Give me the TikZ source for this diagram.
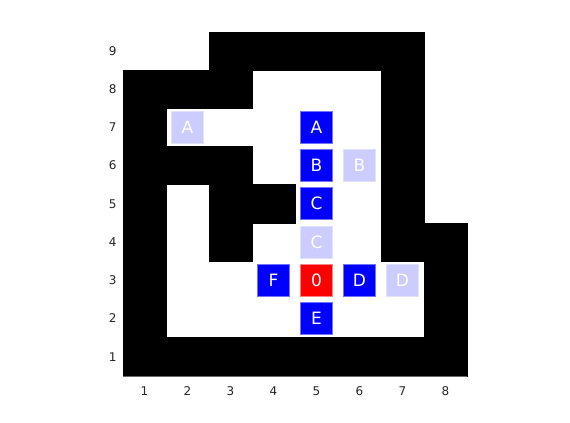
\documentclass[tikz,border=0pt]{standalone}
\usepackage{fontspec}
\setmainfont{DejaVu Sans}
\usetikzlibrary{positioning}

\begin{document}
\begin{tikzpicture}[
  x=43pt, y=38.2pt,
  wall/.style={fill=black, draw=black, line width=0.4pt},
  cellbox/.style={draw, minimum size=32pt, inner sep=0pt, line width=0.8pt,
    text=white, font=\fontsize{17}{17}\selectfont},
  currbox/.style={cellbox, fill=blue, draw=blue!55!white},
  prevbox/.style={cellbox, fill=blue!20!white, draw=blue!12!white},
  startbox/.style={cellbox, fill=red, draw=red!50!white},
  ticklabel/.style={font=\fontsize{12}{12}\selectfont, text=black!85,
    text height=8.8pt, text depth=0pt, inner sep=1pt},
]
\useasboundingbox (-2.3605,-0.712) rectangle (10.895,10.335);

% walls of the maze
\foreach \c/\r in {3/9,4/9,5/9,6/9,7/9,
                   1/8,2/8,3/8,7/8,
                   1/7,7/7,
                   1/6,2/6,3/6,7/6,
                   1/5,3/5,4/5,7/5,
                   1/4,3/4,7/4,8/4,
                   1/3,8/3,
                   1/2,8/2,
                   1/1,2/1,3/1,4/1,5/1,6/1,7/1,8/1}
  \filldraw[wall] (\c-0.5,\r-0.5) rectangle (\c+0.5,\r+0.5);

\draw[black!60, line width=0.3pt] (0.5,0.5) -- (8.5,0.5);

% axis labels
\foreach \c in {1,...,8}
  \node[ticklabel] (x\c) at (\c,0.11) {\c};
\foreach \r in {1,...,9}
  \node[ticklabel] (y\r) at (0.26,\r) {\r};

% search steps
\node[startbox] (s0) at (5,3) {0};
\node[currbox] (sA) at (5,7) {A};
\node[prevbox] (pA) at (2,7) {A};
\node[currbox] (sB) at (5,6) {B};
\node[prevbox] (pB) at (6,6) {B};
\node[currbox] (sC) at (5,5) {C};
\node[prevbox] (pC) at (5,4) {C};
\node[currbox] (sD) at (6,3) {D};
\node[prevbox] (pD) at (7,3) {D};
\node[currbox] (sE) at (5,2) {E};
\node[currbox] (sF) at (4,3) {F};
\end{tikzpicture}
\end{document}
